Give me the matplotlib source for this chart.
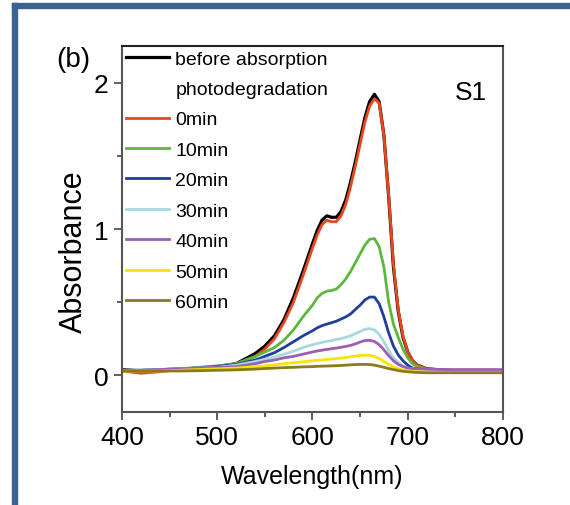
import matplotlib
matplotlib.use('Agg')
import matplotlib.pyplot as plt
from matplotlib.lines import Line2D
from matplotlib.patches import Rectangle

plt.rcParams['font.family'] = ['Liberation Sans', 'DejaVu Sans']

# wavelength grid (nm) shared by all spectra
wl = [400, 420, 440, 460, 480, 500, 520, 540, 550, 560, 570, 580, 590, 600,
      605, 610, 615, 620, 625, 630, 635, 640, 645, 650, 655, 660, 665, 670,
      675, 680, 685, 690, 695, 700, 705, 710, 720, 740, 760, 780, 800]

before = [0.04, 0.03, 0.035, 0.04, 0.05, 0.06, 0.08, 0.15, 0.20, 0.27, 0.38, 0.53, 0.71, 0.90,
          0.99, 1.06, 1.09, 1.08, 1.08, 1.12, 1.20, 1.32, 1.46, 1.61, 1.76, 1.87, 1.92, 1.87,
          1.64, 1.22, 0.74, 0.44, 0.26, 0.16, 0.10, 0.07, 0.045, 0.035, 0.03, 0.03, 0.03]
t0 = [0.03, 0.015, 0.025, 0.04, 0.05, 0.06, 0.08, 0.13, 0.18, 0.25, 0.36, 0.50, 0.68, 0.87,
      0.96, 1.03, 1.06, 1.05, 1.05, 1.09, 1.17, 1.29, 1.43, 1.58, 1.73, 1.84, 1.89, 1.86,
      1.64, 1.23, 0.76, 0.45, 0.27, 0.16, 0.10, 0.07, 0.045, 0.035, 0.03, 0.03, 0.03]
t10 = [0.035, 0.035, 0.04, 0.045, 0.055, 0.065, 0.08, 0.13, 0.16, 0.19, 0.24, 0.31, 0.40, 0.48,
       0.53, 0.56, 0.575, 0.58, 0.59, 0.62, 0.66, 0.71, 0.77, 0.83, 0.89, 0.93, 0.935, 0.88,
       0.74, 0.50, 0.35, 0.26, 0.18, 0.12, 0.08, 0.06, 0.04, 0.035, 0.03, 0.03, 0.03]
t20 = [0.035, 0.035, 0.04, 0.045, 0.05, 0.06, 0.075, 0.105, 0.13, 0.155, 0.19, 0.23, 0.27, 0.305,
       0.325, 0.34, 0.35, 0.36, 0.37, 0.385, 0.40, 0.42, 0.45, 0.48, 0.515, 0.535, 0.535, 0.49,
       0.40, 0.29, 0.20, 0.14, 0.10, 0.07, 0.05, 0.045, 0.035, 0.03, 0.03, 0.03, 0.03]
t30 = [0.035, 0.035, 0.04, 0.045, 0.05, 0.055, 0.07, 0.095, 0.11, 0.125, 0.145, 0.165, 0.19, 0.21,
       0.218, 0.225, 0.232, 0.238, 0.245, 0.252, 0.26, 0.27, 0.285, 0.30, 0.315, 0.32, 0.31, 0.28,
       0.23, 0.17, 0.12, 0.09, 0.065, 0.05, 0.045, 0.04, 0.035, 0.035, 0.035, 0.035, 0.035]
t40 = [0.035, 0.035, 0.04, 0.045, 0.05, 0.055, 0.06, 0.08, 0.095, 0.105, 0.12, 0.13, 0.145, 0.16,
       0.167, 0.172, 0.177, 0.182, 0.187, 0.192, 0.198, 0.205, 0.215, 0.228, 0.238, 0.24, 0.232, 0.21,
       0.175, 0.135, 0.10, 0.075, 0.06, 0.05, 0.045, 0.045, 0.042, 0.04, 0.04, 0.04, 0.04]
t50 = [0.03, 0.03, 0.03, 0.035, 0.04, 0.045, 0.05, 0.06, 0.065, 0.072, 0.08, 0.087, 0.093, 0.10,
       0.103, 0.106, 0.109, 0.112, 0.115, 0.118, 0.122, 0.127, 0.132, 0.136, 0.138, 0.137, 0.13, 0.115,
       0.095, 0.075, 0.058, 0.045, 0.037, 0.032, 0.028, 0.025, 0.022, 0.02, 0.02, 0.02, 0.02]
t60 = [0.03, 0.03, 0.03, 0.03, 0.032, 0.035, 0.038, 0.043, 0.047, 0.05, 0.053, 0.055, 0.058, 0.06,
       0.062, 0.063, 0.064, 0.065, 0.066, 0.068, 0.07, 0.072, 0.074, 0.075, 0.075, 0.074, 0.07, 0.063,
       0.055, 0.047, 0.04, 0.033, 0.028, 0.025, 0.022, 0.02, 0.018, 0.018, 0.018, 0.018, 0.018]

labels = ['0min', '10min', '20min', '30min', '40min', '50min', '60min']
series = [t0, t10, t20, t30, t40, t50, t60]
colors = ['#e8461e', '#5cb83c', '#1f3f9a', '#a6d9e2', '#9b5fb4', '#f7e20a', '#8a7a1c']

fig = plt.figure(figsize=(5.7, 5.06), dpi=100)
# blue frame of the source image
fig.patches.append(Rectangle((12 / 570, 1 - 9 / 506), 1, 5 / 506, transform=fig.transFigure,
                             color='#3c6291', zorder=0))
fig.patches.append(Rectangle((12 / 570, 0), 5 / 570, 1 - 4 / 506, transform=fig.transFigure,
                             color='#3c6291', zorder=0))

ax = fig.add_axes([0.214, 0.1838, 0.6684, 0.7233])

handles = []
h, = ax.plot(wl, before, color='black', lw=2.3, label='before absorption')
handles.append(h)
handles.append(Line2D([], [], color='none', label='photodegradation'))
for y, c, lab in zip(series, colors, labels):
  h, = ax.plot(wl, y, color=c, lw=2.0, label=lab)
  handles.append(h)

ax.set_xlim(400, 800)
ax.set_ylim(-0.25, 2.25)
ax.set_xticks([400, 500, 600, 700, 800])
ax.set_xticks([450, 550, 650, 750], minor=True)
ax.set_yticks([0, 1, 2])
ax.set_yticks([0.5, 1.5], minor=True)
ax.tick_params(which='major', direction='out', length=6, width=1.2, labelsize=19, color='#444')
ax.tick_params(which='minor', direction='out', length=3.5, width=1.2, color='#444')
for s in ax.spines.values():
  s.set_color('#555')
  s.set_linewidth(1.5)
ax.spines['top'].set_color('#222')

ax.set_xlabel('Wavelength(nm)', fontsize=18, labelpad=11)
ax.set_ylabel('Absorbance', fontsize=22)
ax.yaxis.set_label_coords(-0.088, 0.44)

ax.text(0.915, 0.875, 'S1', transform=ax.transAxes, fontsize=19, ha='center', va='center')
fig.text(73 / 570, 1 - 60 / 506, '(b)', fontsize=20, ha='center', va='center')

ax.legend(handles=handles, loc='upper left', frameon=False, fontsize=14,
          handlelength=2.2, handletextpad=0.35, labelspacing=0.66,
          borderaxespad=0.0, borderpad=0.2)

fig.savefig('out.png', dpi=100)
